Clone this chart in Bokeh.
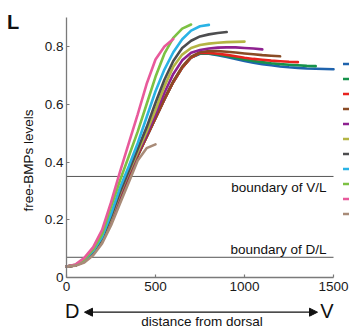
import math
from bokeh.plotting import figure
from bokeh.models import (Label, Arrow, NormalHead, Legend, LegendItem,
                          FixedTicker, CustomJSTickFormatter)
from bokeh.core.properties import value
from bokeh.embed import file_html
from bokeh.resources import INLINE

# ---------------- data ----------------
distance = [0, 50, 100, 150, 200, 250, 300, 350, 400, 450, 500, 550, 600, 650,
            700, 750, 800, 850, 900, 950, 1000, 1050, 1100, 1150, 1200, 1250,
            1300, 1350, 1400, 1450, 1500]

blue = [0.038, 0.042, 0.055, 0.082, 0.127, 0.195, 0.278, 0.352, 0.422, 0.487,
        0.552, 0.617, 0.677, 0.727, 0.762, 0.775, 0.775, 0.770, 0.764, 0.757,
        0.750, 0.744, 0.739, 0.735, 0.731, 0.728, 0.726, 0.724, 0.723, 0.722, 0.721]
dark_green = [0.038, 0.042, 0.055, 0.082, 0.127, 0.195, 0.278, 0.352, 0.422, 0.487,
              0.552, 0.617, 0.677, 0.727, 0.762, 0.776, 0.776, 0.772, 0.767, 0.761,
              0.755, 0.750, 0.746, 0.742, 0.739, 0.737, 0.735, 0.733, 0.732]
red = [0.038, 0.042, 0.055, 0.082, 0.127, 0.195, 0.278, 0.352, 0.422, 0.487,
       0.552, 0.617, 0.677, 0.727, 0.762, 0.778, 0.778, 0.775, 0.771, 0.766,
       0.761, 0.757, 0.754, 0.751, 0.749, 0.747, 0.746]
brown = [0.038, 0.042, 0.055, 0.083, 0.128, 0.197, 0.280, 0.355, 0.425, 0.490,
         0.555, 0.620, 0.680, 0.730, 0.765, 0.780, 0.784, 0.784, 0.782, 0.779,
         0.776, 0.773, 0.770, 0.768, 0.766]
purple = [0.038, 0.042, 0.056, 0.085, 0.130, 0.200, 0.285, 0.360, 0.430, 0.495,
          0.565, 0.640, 0.705, 0.752, 0.778, 0.788, 0.793, 0.796, 0.797, 0.797,
          0.795, 0.793, 0.790]
olive = [0.038, 0.042, 0.057, 0.086, 0.132, 0.205, 0.290, 0.365, 0.435, 0.505,
         0.580, 0.662, 0.730, 0.772, 0.795, 0.805, 0.810, 0.813, 0.815, 0.816, 0.817]
dark_gray = [0.038, 0.042, 0.058, 0.088, 0.135, 0.210, 0.295, 0.370, 0.445, 0.520,
             0.605, 0.685, 0.750, 0.795, 0.820, 0.835, 0.842, 0.847, 0.850]
cyan = [0.038, 0.043, 0.060, 0.092, 0.140, 0.220, 0.310, 0.385, 0.465, 0.555,
        0.645, 0.720, 0.780, 0.825, 0.855, 0.870, 0.875]
light_green = [0.038, 0.044, 0.063, 0.097, 0.150, 0.245, 0.335, 0.420, 0.505, 0.600,
               0.695, 0.775, 0.830, 0.862, 0.876]
pink = [0.038, 0.045, 0.068, 0.105, 0.165, 0.260, 0.365, 0.465, 0.565, 0.670,
        0.755, 0.800, 0.826]
tan = [0.038, 0.041, 0.052, 0.077, 0.118, 0.180, 0.255, 0.330, 0.405, 0.448, 0.461]

series = [blue, dark_green, red, brown, purple, olive, dark_gray, cyan,
          light_green, pink, tan]
colors = ["#1f63ad", "#17924b", "#e8231f", "#8a4b25", "#8e2190", "#b4b544",
          "#4d4d4f", "#2ab3e5", "#7dc143", "#e85a9b", "#a88b78"]

x_ticks = [0, 500, 1000, 1500]
x_tick_labels = ["0", "500", "1000", "1500"]
y_ticks = [0, 0.2, 0.4, 0.6, 0.8]
y_tick_labels = ["0", "0.2", "0.4", "0.6", "0.8"]
x_axis_max = 1500
y_axis_max = 0.9
boundaries = [0.35, 0.07]
boundary_labels = ["boundary of V/L", "boundary of D/L"]

# ---------------- layout ----------------
FONT = "Liberation Sans"
W, H = 349, 330
X0_PX, Y0_PX = 66, 277       # canvas position of the data origin
PX_X = 0.178                 # pixels per distance unit
PX_Y = 288.75                # pixels per level unit

p = figure(width=W, height=H, output_backend="svg", toolbar_location=None,
           x_range=(-X0_PX / PX_X, (W - X0_PX) / PX_X),
           y_range=(-(H - Y0_PX) / PX_Y, Y0_PX / PX_Y),
           min_border=0)
p.title.visible = False
p.outline_line_color = None
p.grid.visible = False
p.background_fill_color = "white"
p.border_fill_color = "white"

AX = "#7a7a7a"
for ax in (p.xaxis[0], p.yaxis[0]):
    ax.fixed_location = 0
    ax.axis_line_color = AX
    ax.axis_line_width = 1.3
    ax.major_tick_line_color = AX
    ax.major_tick_line_width = 1.2
    ax.major_tick_in = 3
    ax.major_tick_out = 0
    ax.minor_tick_line_color = None
    ax.major_label_text_font = FONT
    ax.major_label_text_font_size = "13.5px"
    ax.major_label_text_color = "#1a1a1a"

p.xaxis.bounds = (0, x_axis_max)
p.xaxis.ticker = FixedTicker(ticks=x_ticks)
p.xaxis.formatter = CustomJSTickFormatter(args=dict(labels=x_tick_labels),
                                          code="return labels[index]")
p.xaxis.major_label_standoff = 4

p.yaxis.bounds = (0, y_axis_max)
p.yaxis.ticker = FixedTicker(ticks=y_ticks)
p.yaxis.formatter = CustomJSTickFormatter(args=dict(labels=y_tick_labels),
                                          code="return labels[index]")
p.yaxis.major_label_standoff = 3

# boundary lines
for b in boundaries:
    p.segment(x0=0, y0=b, x1=x_axis_max, y1=b, line_color="#555555", line_width=1)

# curves
renderers = []
for ys, c in zip(series, colors):
    r = p.line(x=distance[:len(ys)], y=ys, line_color=c, line_width=2.6,
               line_cap="round")
    renderers.append(r)

# legend stubs (their labels lie beyond the right edge in the reference)
legend = Legend(items=[LegendItem(label=value(""), renderers=[r]) for r in renderers],
                location=(343, 109), orientation="vertical",
                glyph_width=20, glyph_height=15, label_height=15, label_width=0,
                label_standoff=0, spacing=0, padding=0, margin=0,
                label_text_font_size="8px",
                border_line_color=None, background_fill_alpha=0)
p.add_layout(legend)


def lab(text, px, py, size="13.5px", align="left", style="normal", angle=0.0):
    # px, py: canvas pixel position (from top-left) of the text's middle
    p.add_layout(Label(x=px, y=H - py, x_units="screen", y_units="screen",
                       text=text, text_align=align, text_baseline="middle",
                       text_font=FONT, text_font_size=size,
                       text_font_style=style, text_color="#111111", angle=angle))


lab("L", 6.5, 21, size="20px", style="bold")
lab("free-BMPs levels", 27.5, 160, align="center", angle=math.pi / 2)
lab(boundary_labels[0], 326, 187, align="right")
lab(boundary_labels[1], 326, 249, align="right")
lab("D", 64.5, 310, size="20px")
lab("V", 333, 310, size="20px", align="right")
lab("distance from dorsal", 201.5, 320.5, align="center")

head = dict(size=8, fill_color="#111111", line_color="#111111", line_width=1)
p.add_layout(Arrow(start=NormalHead(**head), end=NormalHead(**head),
                   x_start=84, y_start=H - 311.7, x_end=317, y_end=H - 311.7,
                   start_units="screen", end_units="screen",
                   line_color="#111111", line_width=1.3))

open("out.html", "w").write(file_html(p, INLINE))
